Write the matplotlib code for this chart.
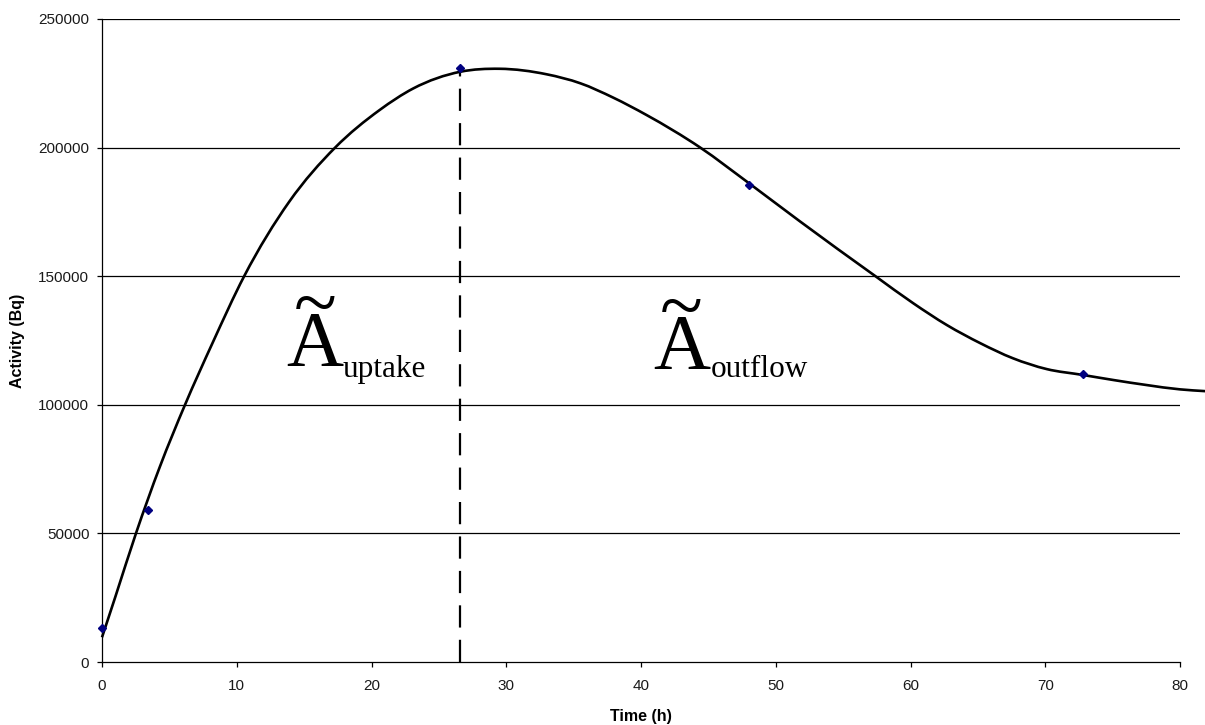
import matplotlib
matplotlib.use("Agg")
import matplotlib.pyplot as plt
from matplotlib.path import Path
from matplotlib.patches import PathPatch

# measured data points
time_h = [0, 3.4, 26.6, 48.0, 72.8]
activity_bq = [13100, 59200, 230800, 185500, 111900]

# fitted curve, values
curve_t = [0, 1.0, 2.52, 4.3, 6.16, 8.2, 10.55, 13.9, 17.3, 20.6, 23.1, 26.6, 29.5,
           33.0, 35.5, 37.95, 40.4, 44.4, 48.0, 51.8, 57.4, 60.2, 62.7, 65.2,
           67.6, 70.1, 72.8, 75.1, 77.5, 80.0, 81.9]
curve_v = [9600, 25500, 50000, 76000, 100000, 124000, 150000, 179000, 200000, 214600,
           223000, 229500, 230650, 228500, 225000, 219400, 212700, 200000,
           186200, 171300, 150000, 139500, 131000, 123900, 118100, 113900, 111600,
           109600, 107700, 106000, 105300]

split_t = 26.6
split_v = 229800

x_ticks = [0, 10, 20, 30, 40, 50, 60, 70, 80]
y_ticks = [0, 50000, 100000, 150000, 200000, 250000]


def smooth_path(xs, ys):
    """Cubic Hermite curve through the read points, as Bezier segments."""
    n = len(xs)
    sec = [(ys[i + 1] - ys[i]) / (xs[i + 1] - xs[i]) for i in range(n - 1)]
    d = [sec[0]]
    for i in range(1, n - 1):
        h0 = xs[i] - xs[i - 1]
        h1 = xs[i + 1] - xs[i]
        d.append((sec[i - 1] * h1 + sec[i] * h0) / (h0 + h1))
    d.append(sec[-1])
    verts = [(xs[0], ys[0])]
    codes = [Path.MOVETO]
    for i in range(n - 1):
        h = xs[i + 1] - xs[i]
        verts += [(xs[i] + h / 3, ys[i] + d[i] * h / 3),
                  (xs[i + 1] - h / 3, ys[i + 1] - d[i + 1] * h / 3),
                  (xs[i + 1], ys[i + 1])]
        codes += [Path.CURVE4] * 3
    return Path(verts, codes)


W, H = 1205, 725
fig = plt.figure(figsize=(W / 100, H / 100), dpi=100)
ax = fig.add_axes([102 / W, (H - 662) / H, (1180 - 102) / W, (662 - 19) / H])

ax.set_xlim(0, 80)
ax.set_ylim(0, 250000)
ax.set_xticks(x_ticks)
ax.set_yticks(y_ticks)
ax.set_xticklabels([str(v) for v in x_ticks])
ax.set_yticklabels([str(v) for v in y_ticks])

for v in y_ticks[1:]:
    ax.axhline(v, color="black", lw=0.9, zorder=1)

ax.spines["top"].set_visible(False)
ax.spines["right"].set_visible(False)
ax.spines["left"].set_linewidth(0.9)
ax.spines["bottom"].set_linewidth(0.9)
ax.tick_params(axis="both", direction="out", length=3.6, width=0.9,
               labelsize=11, colors="black")
ax.tick_params(axis="y", pad=5.5)
ax.tick_params(axis="x", pad=8.5)
for lab in ax.get_xticklabels() + ax.get_yticklabels():
    lab.set_fontfamily("Liberation Sans")
    lab.set_color("#1a1a1a")

patch = PathPatch(smooth_path(curve_t, curve_v), facecolor="none", edgecolor="black",
                  lw=1.9, clip_on=False, zorder=3, joinstyle="round")
ax.add_patch(patch)
ax.plot([split_t, split_t], [0, split_v], color="black", lw=1.6,
        linestyle=(0, (10, 5.5)), zorder=2)
ax.plot(time_h, activity_bq, linestyle="none", marker="D", markersize=4.3,
        color="#000080", zorder=4, clip_on=False)

serif = "Liberation Serif"
ax.text(15.8, 115470, "~\nA", fontsize=57, family=serif, ha="center", va="baseline",
        multialignment="center", linespacing=0.37)
ax.text(17.85, 110800, "uptake", fontsize=22.5, family=serif, ha="left", va="baseline")
ax.text(43.0, 114300, "~\nA", fontsize=57, family=serif, ha="center", va="baseline",
        multialignment="center", linespacing=0.37)
ax.text(45.15, 110800, "outflow", fontsize=22.5, family=serif, ha="left", va="baseline")

fig.text(18 / W, 1 - 341 / H, "Activity (Bq)", rotation=90, ha="center", va="center",
         fontsize=11.5, fontweight="bold", family="Liberation Sans")
fig.text(641 / W, 1 - 716 / H, "Time (h)", ha="center", va="center",
         fontsize=11.5, fontweight="bold", family="Liberation Sans")

fig.savefig("out.png", dpi=100)
